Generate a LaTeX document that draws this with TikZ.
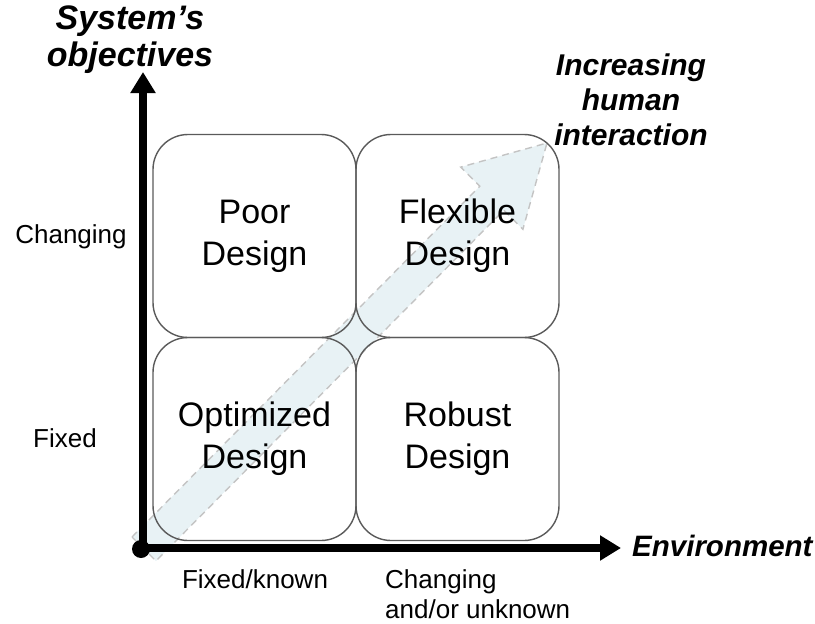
\documentclass[tikz,border=0pt]{standalone}
\usepackage{fontspec}
\setmainfont{Liberation Sans}
\usetikzlibrary{arrows.meta}
\definecolor{arrowfill}{HTML}{E8F2F5}
\definecolor{arrowline}{HTML}{C4C4C4}
\definecolor{boxline}{HTML}{5A5A5A}
\tikzset{
  quad/.style={draw=boxline, line width=1.4pt, rounded corners=35pt, minimum width=203pt, minimum height=203pt, align=center, font=\fontsize{34}{42}\selectfont, inner sep=0pt},
  axis/.style={line width=8pt, -{Triangle[length=21pt,width=24pt]}},
  lbl/.style={font=\fontsize{26}{30}\selectfont, inner sep=0pt},
  title/.style={font=\fontsize{30}{35}\selectfont\bfseries\itshape, align=center, inner sep=0pt},
  bigarrow/.style={fill=arrowfill, draw=arrowline, dashed, dash pattern=on 7pt off 5pt, line width=1.4pt, line join=miter}
}
\begin{document}
\begin{tikzpicture}[x=1pt,y=-1pt]
\useasboundingbox (0,0) rectangle (815,624);
% increasing-interaction arrow
\coordinate (a1) at (132,537);
\coordinate (a2) at (479.8,186.2);
\coordinate (a3) at (460.7,167.1);
\coordinate (a4) at (547,143);
\coordinate (a5) at (522.9,229.3);
\coordinate (a6) at (503.8,210.2);
\coordinate (a7) at (156,561);
\draw[bigarrow] (a1) -- (a2) -- (a3) -- (a4) -- (a5) -- (a6) -- (a7) -- cycle;
% quadrants
\node[quad] (poor) at (254.5,236) {Poor\\Design};
\node[quad] (flex) at (457.5,236) {Flexible\\Design};
\node[quad] (opt) at (254.5,439) {Optimized\\Design};
\node[quad] (rob) at (457.5,439) {Robust\\Design};
% axes
\coordinate (O) at (143,548);
\coordinate (Y) at (143,72);
\coordinate (X) at (621,548);
\draw[axis] (O) -- (Y);
\draw[axis] (O) -- (X);
\fill (141,549) circle (9pt);
% titles
\node[title, font=\fontsize{34}{37}\selectfont\bfseries\itshape] (ytitle) at (130,40) {System’s\\objectives};
\node[title] (dtitle) at (631,100) {Increasing\\human\\interaction};
\node[title, anchor=base west, font=\fontsize{29.5}{35}\selectfont\bfseries\itshape] (xtitle) at (632,556) {Environment};
% level labels
\node[lbl, anchor=base] (ych) at (71,243) {Changing};
\node[lbl, anchor=base] (yfx) at (65,447) {Fixed};
\node[lbl, anchor=base] (xfx) at (255,588) {Fixed/known};
\node[lbl, anchor=base west] (xch) at (385,588) {Changing};
\node[lbl, anchor=base west] (xch2) at (385,618) {and/or unknown};
\end{tikzpicture}
\end{document}
